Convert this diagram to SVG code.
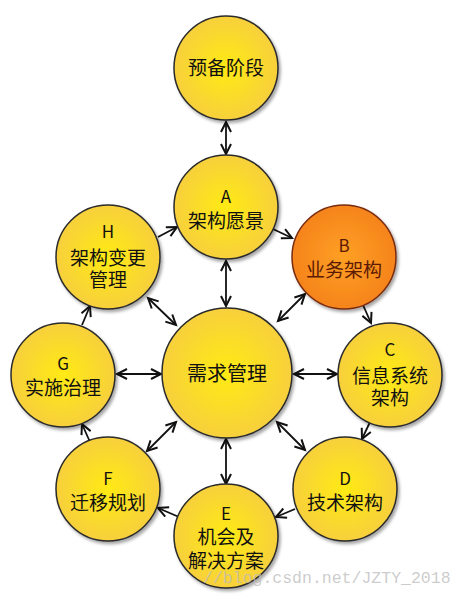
<svg xmlns="http://www.w3.org/2000/svg" width="462" height="600" viewBox="0 0 462 600">
<style>
.n{stroke:#2b2b2b;stroke-width:1.5;filter:url(#sh)}
.y{fill:url(#gy)}
.o{fill:url(#go);stroke:#7a2c10}
.t{font-family:"Noto Sans CJK SC","Noto Sans",sans-serif;font-size:19px;fill:#111;text-anchor:middle}
.l{font-size:17px}
.bt{fill:#5c1a05}
.c line{stroke:#111;stroke-width:1.8;fill:none}
.s{marker-end:url(#ah)}
.d{marker-start:url(#ah);marker-end:url(#ah)}
.wm{font-family:"Liberation Mono",monospace;font-size:16.5px;fill:#bbb;fill-opacity:0.75}
</style>
<defs>
<radialGradient id="gy" cx="50%" cy="50%" r="50%">
<stop offset="0" stop-color="#FFEA14"/>
<stop offset="1" stop-color="#F7D03C"/>
</radialGradient>
<radialGradient id="go" cx="50%" cy="50%" r="50%">
<stop offset="0" stop-color="#FFA024"/>
<stop offset="1" stop-color="#F5841C"/>
</radialGradient>
<filter id="sh" x="-20%" y="-20%" width="150%" height="150%">
<feDropShadow dx="2" dy="2.5" stdDeviation="1.8" flood-color="#000" flood-opacity="0.35"/>
</filter>
<marker id="ah" markerUnits="userSpaceOnUse" markerWidth="14" markerHeight="14" refX="11" refY="6" orient="auto-start-reverse">
<path d="M1,1 L11,6 L1,11" fill="none" stroke="#111" stroke-width="2"/>
</marker>
</defs>
<g id="connectors" class="c">
<line class="d" x1="226" y1="122" x2="226" y2="154"/>
<line class="d" x1="226" y1="261" x2="226" y2="306"/>
<line class="s" x1="273" y1="229" x2="292" y2="238"/>
<line class="s" x1="363" y1="305" x2="371" y2="323"/>
<line class="s" x1="370" y1="422" x2="362" y2="439"/>
<line class="s" x1="295" y1="509" x2="276" y2="517"/>
<line class="s" x1="179" y1="517" x2="158" y2="508"/>
<line class="s" x1="90" y1="442" x2="82" y2="424"/>
<line class="s" x1="82" y1="325" x2="90" y2="306"/>
<line class="s" x1="158" y1="237" x2="177" y2="227"/>
<line class="d" x1="278" y1="321" x2="305" y2="294"/>
<line class="d" x1="294" y1="374" x2="337" y2="374"/>
<line class="d" x1="277" y1="422" x2="305" y2="450"/>
<line class="d" x1="226" y1="439" x2="226" y2="484"/>
<line class="d" x1="176" y1="422" x2="147" y2="451"/>
<line class="d" x1="117" y1="374" x2="161" y2="374"/>
<line class="d" x1="148" y1="298" x2="176" y2="325"/>
</g>
<g id="prep">
<circle class="n y" cx="226" cy="68" r="52"/>
<text class="t" x="226" y="75">预备阶段</text>
</g>
<g id="A">
<circle class="n y" cx="226" cy="207" r="52"/>
<text class="t l" x="226" y="203">A</text>
<text class="t" x="226" y="228">架构愿景</text>
</g>
<g id="B">
<circle class="n o" cx="344" cy="257" r="52"/>
<text class="t l bt" x="344" y="252">B</text>
<text class="t bt" x="344" y="277">业务架构</text>
</g>
<g id="C">
<circle class="n y" cx="390" cy="375" r="52"/>
<text class="t l" x="390" y="356">C</text>
<text class="t" x="390" y="383">信息系统</text>
<text class="t" x="390" y="405">架构</text>
</g>
<g id="D">
<circle class="n y" cx="345" cy="489" r="52"/>
<text class="t l" x="345" y="485">D</text>
<text class="t" x="345" y="510">技术架构</text>
</g>
<g id="E">
<circle class="n y" cx="226" cy="536" r="52"/>
<text class="t l" x="226" y="520">E</text>
<text class="t" x="226" y="544">机会及</text>
<text class="t" x="226" y="568">解决方案</text>
</g>
<g id="F">
<circle class="n y" cx="108" cy="489" r="52"/>
<text class="t l" x="108" y="485">F</text>
<text class="t" x="108" y="510">迁移规划</text>
</g>
<g id="G">
<circle class="n y" cx="63" cy="375" r="52"/>
<text class="t l" x="63" y="370">G</text>
<text class="t" x="63" y="395">实施治理</text>
</g>
<g id="H">
<circle class="n y" cx="108" cy="257" r="52"/>
<text class="t l" x="108" y="238">H</text>
<text class="t" x="108" y="265">架构变更</text>
<text class="t" x="108" y="287">管理</text>
</g>
<g id="center">
<circle class="n y" cx="227" cy="373" r="65"/>
<text class="t" x="227" y="381" style="font-size:20px">需求管理</text>
</g>
<text class="wm" x="203" y="583">//blog.csdn.net/JZTY_2018</text>
</svg>
